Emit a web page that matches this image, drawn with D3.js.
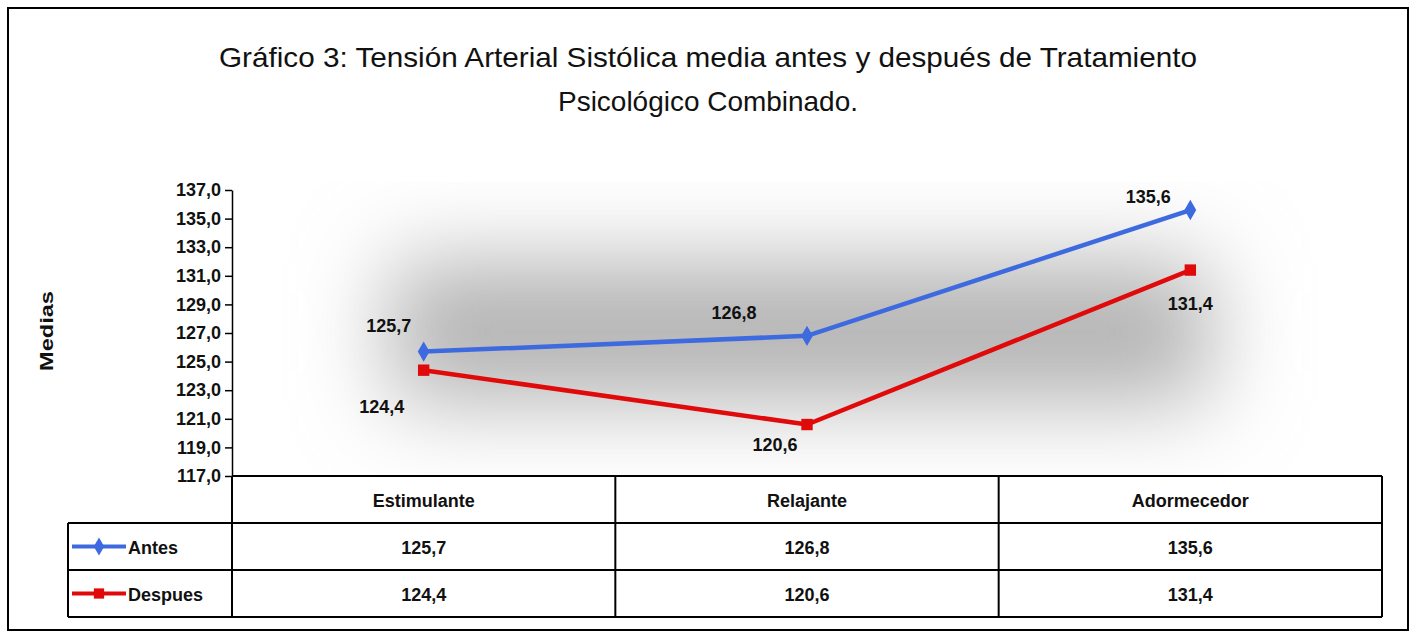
<!DOCTYPE html>
<html>
<head>
<meta charset="utf-8">
<script src="https://cdn.jsdelivr.net/npm/d3@7"></script>
<style>
  body { margin:0; background:#fff; }
  svg text { font-family: "Liberation Sans Narrow", "Arial Narrow", "Liberation Sans", sans-serif; fill:#111; }
</style>
</head>
<body>
<div id="chart"></div>
<script>
const categories = ["Estimulante", "Relajante", "Adormecedor"];
const antes      = [125.7, 126.8, 135.6];
const despues    = [124.4, 120.6, 131.4];
const yTicks     = [117, 119, 121, 123, 125, 127, 129, 131, 133, 135, 137];
const seriesNames = ["Antes", "Despues"];
const titleLines = ["Gráfico 3: Tensión Arterial Sistólica media antes y después de Tratamiento", "Psicológico Combinado."];

const W = 1416, H = 637;
const plotL = 232, plotR = 1382, plotT = 190, plotB = 476;
const rowH = 47;
const legL = 68;
const fmt = v => d3.format(".1f")(v).replace(".", ",");

const svg = d3.select("#chart").append("svg")
	.attr("width", W).attr("height", H);

// frame
svg.append("rect")
	.attr("x", 8).attr("y", 8).attr("width", 1400).attr("height", 622)
	.attr("fill", "#fff").attr("stroke", "#000").attr("stroke-width", 2);

// title (condensed look by squeezing the glyphs)
const titleLen = [978, 300];
titleLines.forEach((t, i) => {
	svg.append("text")
		.attr("x", 708).attr("y", 67 + i * 44)
		.attr("text-anchor", "middle")
		.attr("textLength", titleLen[i]).attr("lengthAdjust", "spacingAndGlyphs")
		.style("font-size", "28px")
		.text(t);
});

// glow background: a blurred grey block
const defs = svg.append("defs");
const blur = defs.append("filter").attr("id", "soft")
	.attr("x", "-50%").attr("y", "-100%").attr("width", "200%").attr("height", "300%");
blur.append("feGaussianBlur").attr("stdDeviation", 45);
const clip = defs.append("clipPath").attr("id", "plotClip");
clip.append("rect").attr("x", plotL + 1).attr("y", plotT - 8).attr("width", plotR - plotL).attr("height", plotB - plotT + 7);
svg.append("g").attr("clip-path", "url(#plotClip)")
	.append("rect")
		.attr("x", 390).attr("y", 262).attr("width", 820).attr("height", 140)
		.attr("fill", "#b2b2b2")
		.attr("filter", "url(#soft)");

// scales
const x = d3.scaleBand().domain(categories).range([plotL, plotR]);
const y = d3.scaleLinear().domain([117, 137]).range([plotB, plotT]);

// y axis
const yAxis = svg.append("g")
	.attr("transform", `translate(${plotL},0)`)
	.call(d3.axisLeft(y).tickValues(yTicks).tickFormat(fmt).tickSize(7).tickSizeOuter(0));
yAxis.select(".domain").attr("stroke", "#000").attr("stroke-width", 1.5);
yAxis.selectAll(".tick line").attr("stroke", "#000").attr("stroke-width", 1.5);
yAxis.selectAll(".tick text")
	.attr("x", -11)
	.style("font-size", "18px").style("font-weight", "bold")
	.style("font-family", "'Liberation Sans Narrow', 'Arial Narrow', 'Liberation Sans', sans-serif")
	.attr("fill", "#111");

svg.append("text")
	.attr("transform", `translate(53,${(plotT + plotB) / 2 - 2}) rotate(-90)`)
	.attr("text-anchor", "middle")
	.attr("textLength", 80).attr("lengthAdjust", "spacingAndGlyphs")
	.style("font-size", "18px").style("font-weight", "bold")
	.text("Medias");

// lines
const cx = i => x(categories[i]) + x.bandwidth() / 2;
const line = d3.line().x((d, i) => cx(i)).y(d => y(d));
const series = [
	{ name: seriesNames[0], vals: antes, color: "#3e6ae0", marker: d3.symbolDiamond, size: 120 },
	{ name: seriesNames[1], vals: despues, color: "#e00a0a", marker: d3.symbolSquare, size: 130 }
];
series.forEach(s => {
	svg.append("path").datum(s.vals)
		.attr("d", line).attr("fill", "none")
		.attr("stroke", s.color).attr("stroke-width", 4.5);
	svg.selectAll(null).data(s.vals).enter().append("path")
		.attr("d", d3.symbol().type(s.marker).size(s.size))
		.attr("transform", (d, i) => `translate(${cx(i)},${y(d)})`)
		.attr("fill", s.color);
});

// data labels (offsets from point)
const antesOff   = [[-35, -20], [-73, -17], [-42, -7]];
const despuesOff = [[-42, 43], [-32, 26], [0, 40]];
function labels(vals, off) {
	svg.selectAll(null).data(vals).enter().append("text")
		.attr("x", (d, i) => cx(i) + off[i][0])
		.attr("y", (d, i) => y(d) + off[i][1])
		.attr("text-anchor", "middle")
		.style("font-size", "18px").style("font-weight", "bold")
		.text(d => fmt(d));
}
labels(antes, antesOff);
labels(despues, despuesOff);

// data table
const tbl = svg.append("g").attr("stroke", "#000").attr("stroke-width", 2);
tbl.append("line").attr("x1", plotL).attr("x2", plotR).attr("y1", plotB).attr("y2", plotB);
[1, 2, 3].forEach(r => {
	tbl.append("line").attr("x1", legL).attr("x2", plotR).attr("y1", plotB + rowH * r).attr("y2", plotB + rowH * r);
});
tbl.append("line").attr("x1", legL).attr("x2", legL).attr("y1", plotB + rowH).attr("y2", plotB + rowH * 3);
categories.forEach(c => {
	tbl.append("line").attr("x1", x(c)).attr("x2", x(c)).attr("y1", plotB).attr("y2", plotB + rowH * 3);
});
tbl.append("line").attr("x1", plotR).attr("x2", plotR).attr("y1", plotB).attr("y2", plotB + rowH * 3);

svg.selectAll(null).data(categories).enter().append("text")
	.attr("x", d => x(d) + x.bandwidth() / 2).attr("y", plotB + rowH / 2 + 7)
	.attr("text-anchor", "middle")
	.style("font-size", "18px").style("font-weight", "bold")
	.text(d => d);

series.forEach((s, r) => {
	const ry = plotB + rowH * (r + 1) + rowH / 2;
	svg.append("line").attr("x1", legL + 4).attr("x2", legL + 58)
		.attr("y1", ry).attr("y2", ry).attr("stroke", s.color).attr("stroke-width", 4);
	svg.append("path")
		.attr("d", d3.symbol().type(s.marker).size(s.size - 25))
		.attr("transform", `translate(${legL + 31},${ry})`).attr("fill", s.color);
	svg.append("text").attr("x", legL + 60).attr("y", ry + 7)
		.style("font-size", "18px").style("font-weight", "bold").text(s.name);
	svg.selectAll(null).data(s.vals).enter().append("text")
		.attr("x", (d, i) => cx(i)).attr("y", ry + 7)
		.attr("text-anchor", "middle")
		.style("font-size", "18px").style("font-weight", "bold")
		.text(d => fmt(d));
});
</script>
</body>
</html>
